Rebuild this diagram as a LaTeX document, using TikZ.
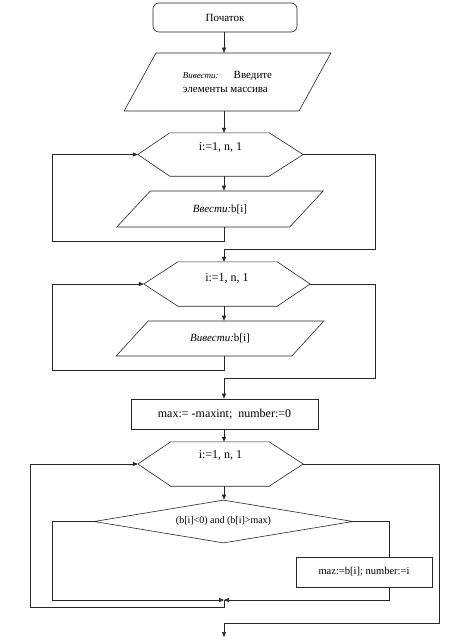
\documentclass[tikz,border=0pt]{standalone}
\usepackage{fontspec}
\setmainfont{Liberation Serif}
\usetikzlibrary{shapes.geometric,arrows.meta}
\newcommand\hexout[3]{\draw[line] (#1.west) -- ([xshift=#2]#1.north west) -- ([xshift=-#3]#1.north east) -- (#1.east) -- ([xshift=-#3]#1.south east) -- ([xshift=#2]#1.south west) -- cycle;}
\begin{document}
\begin{tikzpicture}[x=1pt,y=-1pt,
  every node/.style={font=\fontsize{11}{13}\selectfont, inner sep=0pt},
  line/.style={line width=0.6pt, draw=black!85},
  arr/.style={line, -{Triangle[length=5pt,width=4pt]}},
  startbox/.style={draw=black!85, line width=0.6pt, rounded corners=6pt, minimum width=144pt, minimum height=29pt},
  procbox/.style={draw=black!85, line width=0.6pt, minimum height=30pt},
  iobox/.style={draw=black!85, line width=0.6pt, trapezium, trapezium stretches=true},
  hexbox/.style={minimum width=165pt, minimum height=43pt},
  hextext/.style={font=\fontsize{12}{14}\selectfont},
  condbox/.style={draw=black!85, line width=0.6pt, diamond, aspect=6, minimum width=259pt, minimum height=43pt},
]
\fill[white] (0,0) rectangle (472,641);
\useasboundingbox (0,0) rectangle (472,641);
\coordinate (ax) at (224,0);

\node[startbox] (start) at (225,17.5) {Початок};
\node[iobox, trapezium left angle=47, trapezium right angle=133, minimum width=207pt, minimum height=58pt, align=left] (in1) at (227.5,82)
  {{\fontsize{9}{11}\selectfont\itshape Вивести:}\hspace{15pt}Введите\\[1pt]элементы массива};

\node[hexbox, minimum width=165pt, minimum height=43pt, label={[hextext, yshift=7pt]center:i:=1, n, 1}] (h1) at (220.5,154.5) {};
\hexout{h1}{32pt}{34pt}
\node[iobox, trapezium left angle=35, trapezium right angle=145, minimum width=208pt, minimum height=36pt] (p1) at (220,209)
  {{\itshape Ввести:}b[i]};

\node[hexbox, minimum width=166pt, minimum height=44pt, label={[hextext, yshift=6pt]center:i:=1, n, 1}] (h2) at (227,284) {};
\hexout{h2}{34pt}{33pt}
\node[iobox, trapezium left angle=34.5, trapezium right angle=145.5, minimum width=208pt, minimum height=35pt] (p2) at (220,338.5)
  {{\itshape Вивести:}b[i]};

\node[procbox, minimum width=187pt, font=\fontsize{12}{14}\selectfont] (init) at (224.5,414) {max:= -maxint;\ \ number:=0};

\node[hexbox, minimum width=165pt, minimum height=44pt, label={[hextext, yshift=9pt]center:i:=1, n, 1}] (h3) at (220.5,464) {};
\hexout{h3}{33pt}{34pt}

\node[condbox, font=\fontsize{10}{12}\selectfont] (cond) at (223.5,521.5) {(b[i]<0) and (b[i]>max)};
\node[procbox, minimum width=136pt, font=\fontsize{10.5}{12}\selectfont] (upd) at (364,572) {maz:=b[i]; number:=i};

\coordinate (l1) at (52,241);
\coordinate (r1) at (375,249);
\coordinate (l2) at (52,370);
\coordinate (r2) at (375,378);
\coordinate (j) at (224,600);
\coordinate (l3) at (52,600);
\coordinate (rx) at (389,600);
\coordinate (l4) at (30,607);
\coordinate (r4) at (439,623);
\coordinate (fin) at (224,637);

\draw[arr] (ax|-start.south) -- (ax|-in1.north);
\draw[arr] (ax|-in1.south) -- (ax|-h1.north);
\draw[arr] (ax|-h1.south) -- (ax|-p1.north);
\draw[arr] (ax|-p1.south) |- (l1) |- (h1.west);
\draw[arr] (h1.east) -| (r1) -- (ax|-r1) -- (ax|-h2.north);

\draw[arr] (ax|-h2.south) -- (ax|-p2.north);
\draw[arr] (ax|-p2.south) |- (l2) |- (h2.west);
\draw[arr] (h2.east) -| (r2) -- (ax|-r2) -- (ax|-init.north);

\draw[arr] (ax|-init.south) -- (ax|-h3.north);
\draw[arr] (ax|-h3.south) -- (ax|-cond.north);
\draw[arr] (cond.west) -| (l3) -- (j);
\draw[line] (cond.east) -| (rx|-upd.north);
\draw[arr] (rx|-upd.south) -- (rx) -- (j);
\draw[arr] (j) |- (l4) |- (h3.west);
\draw[arr] (h3.east) -| (r4) -- (ax|-r4) -- (fin);
\end{tikzpicture}
\end{document}
